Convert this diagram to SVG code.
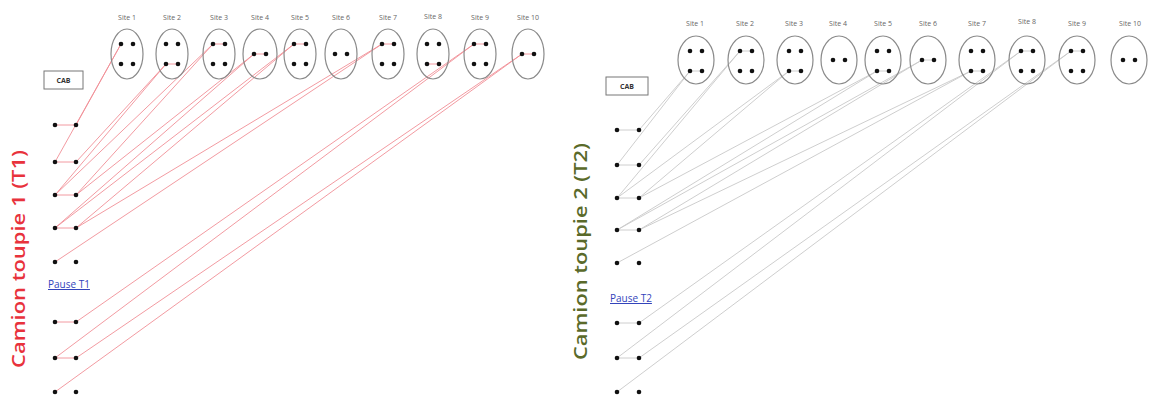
<svg xmlns="http://www.w3.org/2000/svg" width="1151" height="396" viewBox="0 0 1151 396">
<style>
.site{fill:none;stroke:#8a8a8a;stroke-width:1.2}
.lbl{font-family:"Open Sans","Liberation Sans",sans-serif;font-size:7px;fill:#666;text-anchor:middle}
.dot{fill:#111}
.cab{fill:#fff;stroke:#777;stroke-width:1}
.cabt{font-family:"Open Sans","Liberation Sans",sans-serif;font-size:7px;fill:#333;text-anchor:middle;font-weight:bold}
.r{stroke:#f08e96;stroke-width:0.9;fill:none}
.g{stroke:#c8c8c8;stroke-width:0.9;fill:none}
.pause{font-family:"Open Sans","Liberation Sans",sans-serif;font-size:10px;fill:#3344bb;text-decoration:underline}
.title{font-family:"Open Sans","Liberation Sans",sans-serif;font-size:18px;font-weight:600}
</style>
<rect width="1151" height="396" fill="#fff"/>

<!-- connectors -->
<g id="connectors">
  <!-- T1 red -->
  <line class="r" x1="121" y1="44" x2="76" y2="125"/>
  <line class="r" x1="121" y1="44" x2="55" y2="162"/>
  <line class="r" x1="166" y1="64" x2="76" y2="162"/>
  <line class="r" x1="166" y1="64" x2="55" y2="195"/>
  <line class="r" x1="213" y1="44" x2="55" y2="195"/>
  <line class="r" x1="213" y1="44" x2="76" y2="195"/>
  <line class="r" x1="254" y1="54" x2="76" y2="195"/>
  <line class="r" x1="254" y1="54" x2="55" y2="228"/>
  <line class="r" x1="294" y1="44" x2="55" y2="228"/>
  <line class="r" x1="294" y1="44" x2="76" y2="228"/>
  <line class="r" x1="382" y1="44" x2="76" y2="228"/>
  <line class="r" x1="382" y1="44" x2="55" y2="262"/>
  <line class="r" x1="474" y1="44" x2="76" y2="322"/>
  <line class="r" x1="474" y1="44" x2="55" y2="358"/>
  <line class="r" x1="522" y1="54" x2="76" y2="358"/>
  <line class="r" x1="522" y1="54" x2="55" y2="392"/>
  <!-- T1 in-site links -->
  <line class="r" x1="166" y1="64" x2="178" y2="64"/>
  <line class="r" x1="213" y1="44" x2="225" y2="44"/>
  <line class="r" x1="254" y1="54" x2="266" y2="54"/>
  <line class="r" x1="294" y1="44" x2="306" y2="44"/>
  <line class="r" x1="382" y1="44" x2="394" y2="44"/>
  <line class="r" x1="427" y1="64" x2="439" y2="64"/>
  <line class="r" x1="474" y1="44" x2="486" y2="44"/>
  <line class="r" x1="522" y1="54" x2="534" y2="54"/>
  <!-- T1 row links -->
  <line class="r" x1="55" y1="125" x2="76" y2="125"/>
  <line class="r" x1="55" y1="162" x2="76" y2="162"/>
  <line class="r" x1="55" y1="195" x2="76" y2="195"/>
  <line class="r" x1="55" y1="228" x2="76" y2="228"/>
  <line class="r" x1="55" y1="322" x2="76" y2="322"/>
  <line class="r" x1="55" y1="358" x2="76" y2="358"/>

  <!-- T2 grey -->
  <line class="g" x1="690" y1="71" x2="639" y2="130"/>
  <line class="g" x1="690" y1="71" x2="617" y2="165"/>
  <line class="g" x1="740" y1="51" x2="639" y2="165"/>
  <line class="g" x1="740" y1="51" x2="617" y2="198"/>
  <line class="g" x1="789" y1="71" x2="617" y2="198"/>
  <line class="g" x1="789" y1="71" x2="639" y2="198"/>
  <line class="g" x1="877" y1="71" x2="639" y2="198"/>
  <line class="g" x1="877" y1="71" x2="617" y2="230"/>
  <line class="g" x1="922" y1="60" x2="617" y2="230"/>
  <line class="g" x1="922" y1="60" x2="639" y2="230"/>
  <line class="g" x1="971" y1="71" x2="639" y2="230"/>
  <line class="g" x1="971" y1="71" x2="617" y2="263"/>
  <line class="g" x1="1021" y1="51" x2="639" y2="323"/>
  <line class="g" x1="1021" y1="51" x2="617" y2="358"/>
  <line class="g" x1="1071" y1="51" x2="639" y2="358"/>
  <line class="g" x1="1071" y1="51" x2="617" y2="392"/>
  <!-- T2 in-site links -->
  <line class="g" x1="690" y1="71" x2="702" y2="71"/>
  <line class="g" x1="740" y1="51" x2="752" y2="51"/>
  <line class="g" x1="789" y1="71" x2="801" y2="71"/>
  <line class="g" x1="877" y1="71" x2="889" y2="71"/>
  <line class="g" x1="922" y1="60" x2="934" y2="60"/>
  <line class="g" x1="971" y1="71" x2="983" y2="71"/>
  <line class="g" x1="1021" y1="51" x2="1033" y2="51"/>
  <line class="g" x1="1071" y1="51" x2="1083" y2="51"/>
  <!-- T2 row links -->
  <line class="g" x1="617" y1="130" x2="639" y2="130"/>
  <line class="g" x1="617" y1="165" x2="639" y2="165"/>
  <line class="g" x1="617" y1="198" x2="639" y2="198"/>
  <line class="g" x1="617" y1="230" x2="639" y2="230"/>
  <line class="g" x1="617" y1="323" x2="639" y2="323"/>
  <line class="g" x1="617" y1="358" x2="639" y2="358"/>
</g>

<!-- T1 sites -->
<g id="t1-site1"><text class="lbl" x="127" y="20">Site 1</text><ellipse class="site" cx="127" cy="54" rx="16" ry="25"/><circle class="dot" cx="121" cy="44" r="2.3"/><circle class="dot" cx="133" cy="44" r="2.3"/><circle class="dot" cx="121" cy="64" r="2.3"/><circle class="dot" cx="133" cy="64" r="2.3"/></g>
<g id="t1-site2"><text class="lbl" x="172" y="20">Site 2</text><ellipse class="site" cx="172" cy="54" rx="16" ry="25"/><circle class="dot" cx="166" cy="44" r="2.3"/><circle class="dot" cx="178" cy="44" r="2.3"/><circle class="dot" cx="166" cy="64" r="2.3"/><circle class="dot" cx="178" cy="64" r="2.3"/></g>
<g id="t1-site3"><text class="lbl" x="219" y="20">Site 3</text><ellipse class="site" cx="219" cy="54" rx="16" ry="25"/><circle class="dot" cx="213" cy="44" r="2.3"/><circle class="dot" cx="225" cy="44" r="2.3"/><circle class="dot" cx="213" cy="64" r="2.3"/><circle class="dot" cx="225" cy="64" r="2.3"/></g>
<g id="t1-site4"><text class="lbl" x="260" y="20">Site 4</text><ellipse class="site" cx="260" cy="54" rx="17" ry="25"/><circle class="dot" cx="254" cy="54" r="2.3"/><circle class="dot" cx="266" cy="54" r="2.3"/></g>
<g id="t1-site5"><text class="lbl" x="300" y="20">Site 5</text><ellipse class="site" cx="300" cy="54" rx="16" ry="25"/><circle class="dot" cx="294" cy="44" r="2.3"/><circle class="dot" cx="306" cy="44" r="2.3"/><circle class="dot" cx="294" cy="64" r="2.3"/><circle class="dot" cx="306" cy="64" r="2.3"/></g>
<g id="t1-site6"><text class="lbl" x="341" y="20">Site 6</text><ellipse class="site" cx="341" cy="54" rx="16" ry="25"/><circle class="dot" cx="335" cy="54" r="2.3"/><circle class="dot" cx="347" cy="54" r="2.3"/></g>
<g id="t1-site7"><text class="lbl" x="388" y="20">Site 7</text><ellipse class="site" cx="388" cy="54" rx="16" ry="25"/><circle class="dot" cx="382" cy="44" r="2.3"/><circle class="dot" cx="394" cy="44" r="2.3"/><circle class="dot" cx="382" cy="64" r="2.3"/><circle class="dot" cx="394" cy="64" r="2.3"/></g>
<g id="t1-site8"><text class="lbl" x="433" y="19">Site 8</text><ellipse class="site" cx="433" cy="54" rx="16" ry="25"/><circle class="dot" cx="427" cy="44" r="2.3"/><circle class="dot" cx="439" cy="44" r="2.3"/><circle class="dot" cx="427" cy="64" r="2.3"/><circle class="dot" cx="439" cy="64" r="2.3"/></g>
<g id="t1-site9"><text class="lbl" x="480" y="20">Site 9</text><ellipse class="site" cx="480" cy="54" rx="16" ry="25"/><circle class="dot" cx="474" cy="44" r="2.3"/><circle class="dot" cx="486" cy="44" r="2.3"/><circle class="dot" cx="474" cy="64" r="2.3"/><circle class="dot" cx="486" cy="64" r="2.3"/></g>
<g id="t1-site10"><text class="lbl" x="528" y="20">Site 10</text><ellipse class="site" cx="528" cy="54" rx="16" ry="25"/><circle class="dot" cx="522" cy="54" r="2.3"/><circle class="dot" cx="534" cy="54" r="2.3"/></g>

<g id="t1-cab"><rect class="cab" x="44" y="71" width="39" height="18"/><text class="cabt" x="63.5" y="83">CAB</text></g>

<g id="t1-rows">
  <circle class="dot" cx="55" cy="125" r="2.3"/><circle class="dot" cx="76" cy="125" r="2.3"/>
  <circle class="dot" cx="55" cy="162" r="2.3"/><circle class="dot" cx="76" cy="162" r="2.3"/>
  <circle class="dot" cx="55" cy="195" r="2.3"/><circle class="dot" cx="76" cy="195" r="2.3"/>
  <circle class="dot" cx="55" cy="228" r="2.3"/><circle class="dot" cx="76" cy="228" r="2.3"/>
  <circle class="dot" cx="55" cy="262" r="2.3"/><circle class="dot" cx="76" cy="262" r="2.3"/>
  <circle class="dot" cx="55" cy="322" r="2.3"/><circle class="dot" cx="76" cy="322" r="2.3"/>
  <circle class="dot" cx="55" cy="358" r="2.3"/><circle class="dot" cx="76" cy="358" r="2.3"/>
  <circle class="dot" cx="55" cy="392" r="2.3"/><circle class="dot" cx="76" cy="392" r="2.3"/>
</g>
<g id="t1-pause"><text class="pause" x="48" y="288">Pause T1</text></g>
<g id="t1-title"><text class="title" fill="#e8323c" transform="translate(25,368) rotate(-90)" textLength="218" lengthAdjust="spacingAndGlyphs">Camion toupie 1 (T1)</text></g>

<!-- T2 sites -->
<g id="t2-site1"><text class="lbl" x="695" y="26">Site 1</text><ellipse class="site" cx="696" cy="60" rx="18" ry="24"/><circle class="dot" cx="690" cy="51" r="2.3"/><circle class="dot" cx="702" cy="51" r="2.3"/><circle class="dot" cx="690" cy="71" r="2.3"/><circle class="dot" cx="702" cy="71" r="2.3"/></g>
<g id="t2-site2"><text class="lbl" x="745" y="26">Site 2</text><ellipse class="site" cx="746" cy="60" rx="18" ry="24"/><circle class="dot" cx="740" cy="51" r="2.3"/><circle class="dot" cx="752" cy="51" r="2.3"/><circle class="dot" cx="740" cy="71" r="2.3"/><circle class="dot" cx="752" cy="71" r="2.3"/></g>
<g id="t2-site3"><text class="lbl" x="794" y="26">Site 3</text><ellipse class="site" cx="795" cy="60" rx="18" ry="24"/><circle class="dot" cx="789" cy="51" r="2.3"/><circle class="dot" cx="801" cy="51" r="2.3"/><circle class="dot" cx="789" cy="71" r="2.3"/><circle class="dot" cx="801" cy="71" r="2.3"/></g>
<g id="t2-site4"><text class="lbl" x="838" y="26">Site 4</text><ellipse class="site" cx="839" cy="60" rx="18" ry="24"/><circle class="dot" cx="833" cy="60" r="2.3"/><circle class="dot" cx="845" cy="60" r="2.3"/></g>
<g id="t2-site5"><text class="lbl" x="883" y="26">Site 5</text><ellipse class="site" cx="883" cy="60" rx="18" ry="24"/><circle class="dot" cx="877" cy="51" r="2.3"/><circle class="dot" cx="889" cy="51" r="2.3"/><circle class="dot" cx="877" cy="71" r="2.3"/><circle class="dot" cx="889" cy="71" r="2.3"/></g>
<g id="t2-site6"><text class="lbl" x="928" y="26">Site 6</text><ellipse class="site" cx="928" cy="60" rx="18" ry="24"/><circle class="dot" cx="922" cy="60" r="2.3"/><circle class="dot" cx="934" cy="60" r="2.3"/></g>
<g id="t2-site7"><text class="lbl" x="977" y="26">Site 7</text><ellipse class="site" cx="977" cy="60" rx="18" ry="24"/><circle class="dot" cx="971" cy="51" r="2.3"/><circle class="dot" cx="983" cy="51" r="2.3"/><circle class="dot" cx="971" cy="71" r="2.3"/><circle class="dot" cx="983" cy="71" r="2.3"/></g>
<g id="t2-site8"><text class="lbl" x="1027" y="24">Site 8</text><ellipse class="site" cx="1027" cy="60" rx="18" ry="24"/><circle class="dot" cx="1021" cy="51" r="2.3"/><circle class="dot" cx="1033" cy="51" r="2.3"/><circle class="dot" cx="1021" cy="71" r="2.3"/><circle class="dot" cx="1033" cy="71" r="2.3"/></g>
<g id="t2-site9"><text class="lbl" x="1077" y="26">Site 9</text><ellipse class="site" cx="1077" cy="60" rx="18" ry="24"/><circle class="dot" cx="1071" cy="51" r="2.3"/><circle class="dot" cx="1083" cy="51" r="2.3"/><circle class="dot" cx="1071" cy="71" r="2.3"/><circle class="dot" cx="1083" cy="71" r="2.3"/></g>
<g id="t2-site10"><text class="lbl" x="1130" y="26">Site 10</text><ellipse class="site" cx="1129" cy="60" rx="18" ry="24"/><circle class="dot" cx="1123" cy="60" r="2.3"/><circle class="dot" cx="1135" cy="60" r="2.3"/></g>

<g id="t2-cab"><rect class="cab" x="606" y="77" width="42" height="18"/><text class="cabt" x="627" y="89">CAB</text></g>

<g id="t2-rows">
  <circle class="dot" cx="617" cy="130" r="2.3"/><circle class="dot" cx="639" cy="130" r="2.3"/>
  <circle class="dot" cx="617" cy="165" r="2.3"/><circle class="dot" cx="639" cy="165" r="2.3"/>
  <circle class="dot" cx="617" cy="198" r="2.3"/><circle class="dot" cx="639" cy="198" r="2.3"/>
  <circle class="dot" cx="617" cy="230" r="2.3"/><circle class="dot" cx="639" cy="230" r="2.3"/>
  <circle class="dot" cx="617" cy="263" r="2.3"/><circle class="dot" cx="639" cy="263" r="2.3"/>
  <circle class="dot" cx="617" cy="323" r="2.3"/><circle class="dot" cx="639" cy="323" r="2.3"/>
  <circle class="dot" cx="617" cy="358" r="2.3"/><circle class="dot" cx="639" cy="358" r="2.3"/>
  <circle class="dot" cx="617" cy="392" r="2.3"/><circle class="dot" cx="639" cy="392" r="2.3"/>
</g>
<g id="t2-pause"><text class="pause" x="610" y="302">Pause T2</text></g>
<g id="t2-title"><text class="title" fill="#5a6a2a" transform="translate(587,360) rotate(-90)" textLength="217" lengthAdjust="spacingAndGlyphs">Camion toupie 2 (T2)</text></g>
</svg>
